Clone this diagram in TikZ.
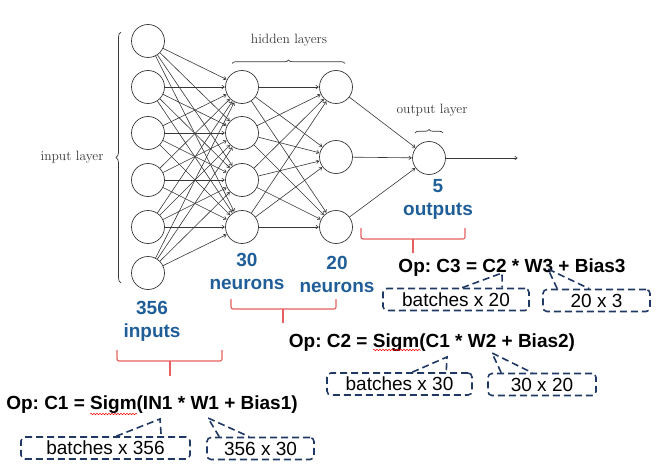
\documentclass[tikz,border=0pt]{standalone}
\usepackage{fontspec}
\setsansfont{Liberation Sans}
\usepackage{tikz}
\usetikzlibrary{arrows.meta,decorations.pathreplacing,decorations.pathmorphing}
\definecolor{netgray}{RGB}{55,55,55}
\definecolor{numblue}{RGB}{31,94,153}
\definecolor{bracered}{RGB}{232,96,96}
\definecolor{boxnavy}{RGB}{31,56,100}
\frenchspacing

\begin{document}
\begin{tikzpicture}[x=1pt,y=-1pt]
    \tikzstyle{neuron}=[circle,draw=netgray,fill=white,minimum size=33pt,inner sep=0pt,line width=0.7pt]
    \tikzstyle{link}=[draw=netgray,line width=0.6pt,-{To[length=3pt,width=4pt]},shorten >=0.5pt]
    \tikzstyle{layertext}=[text=netgray,font=\fontsize{13.5}{16}\selectfont]
    \tikzstyle{layerbrace}=[draw=netgray,line width=0.7pt,decorate]
    \tikzstyle{count}=[text=numblue,align=center,font=\sffamily\bfseries\fontsize{19}{23}\selectfont]
    \tikzstyle{optext}=[font=\sffamily\bfseries\fontsize{19}{23}\selectfont]
    \tikzstyle{dimbox}=[draw=boxnavy,line width=1.6pt,dash pattern=on 7pt off 4pt,rounded corners=4pt,
        inner sep=0pt,minimum height=22pt,font=\sffamily\fontsize{19}{23}\selectfont]
    \tikzstyle{pointer}=[draw=boxnavy,line width=1.6pt,dash pattern=on 7pt off 4pt]
    \tikzstyle{bracket}=[draw=bracered,line width=1.2pt,rounded corners=2pt]
    \tikzstyle{squiggle}=[draw=red,line width=0.5pt,decorate,decoration={snake,amplitude=0.7pt,segment length=3pt}]

    \useasboundingbox (0,0) rectangle (661,476);

    % network
    \foreach \y [count=\i] in {41,87,133,180,227,273}
        \node[neuron] (I-\i) at (148,\y){};
    \foreach \y [count=\i] in {87,133,180,227}
        \node[neuron] (H-\i) at (242,\y){};
    \foreach \y [count=\i] in {87,157,227}
        \node[neuron] (G-\i) at (336,\y){};
    \node[neuron] (O) at (429,158){};
    \coordinate (out) at (518,158);

    \foreach \from in {1,...,6}
        \foreach \to in {1,...,4}
            \draw[link] (I-\from) -- (H-\to);
    \foreach \from in {1,...,4}
        \foreach \to in {1,...,3}
            \draw[link] (H-\from) -- (G-\to);
    \foreach \from in {1,...,3}
        \draw[link] (G-\from) -- (O);
    \draw[link] (O) -- (out);

    % layer names
    \node[layertext] (in-name) at (72,157){input layer};
    \node[layertext] (hid-name) at (289,40){hidden layers};
    \node[layertext] (out-name) at (432,110){output layer};
    \draw[layerbrace,decoration={brace,amplitude=5pt}] (121,283) -- (121,32);
    \draw[layerbrace,decoration={brace,amplitude=3.5pt}] (232,63.5) -- (345,63.5);
    \draw[layerbrace,decoration={brace,amplitude=3.5pt}] (415,133) -- (443,133);

    % sizes
    \node[count] (n-in) at (152,321){356\\inputs};
    \node[count] (n-h1) at (247,271){30\\neurons};
    \node[count] (n-h2) at (337,274){20\\neurons};
    \node[count] (n-out) at (438,199){5\\outputs};

    \draw[bracket] (117,350) -- (117,361) -- (222,361) -- (222,350);
    \draw[bracket] (170,361) -- (170,376);
    \draw[bracket] (231,299) -- (231,309) -- (336,309) -- (336,299);
    \draw[bracket] (283,309) -- (283,323);
    \draw[bracket] (361,228) -- (361,239) -- (465,239) -- (465,228);
    \draw[bracket] (413,239) -- (413,253);

    % operations
    \node[optext] (op1) at (152,405){Op: C1 = Sigm(IN1 * W1 + Bias1)};
    \node[optext] (op2) at (432,343){Op: C2 = Sigm(C1 * W2 + Bias2)};
    \node[optext] (op3) at (512,268){Op: C3 = C2 * W3 + Bias3};
    \draw[squiggle] (90,414) -- (137,414);
    \draw[squiggle] (373,350) -- (421,350);

    \node[dimbox,minimum width=169pt] (b1) at (105.5,448){batches x 356};
    \node[dimbox,minimum width=107pt] (b2) at (260.5,448.5){356 x 30};
    \node[dimbox,minimum width=145pt] (b3) at (399.5,384){batches x 30};
    \node[dimbox,minimum width=108pt] (b4) at (542,384.5){30 x 20};
    \node[dimbox,minimum width=146pt] (b5) at (456,299.5){batches x 20};
    \node[dimbox,minimum width=107pt] (b6) at (596.5,300.5){20 x 3};

    \coordinate (t1) at (160,419);
    \coordinate (t2) at (208,418);
    \coordinate (t3) at (447,357);
    \coordinate (t4) at (492,353);
    \coordinate (t5) at (502,273);
    \coordinate (t6) at (548,269);
    \draw[pointer] ([xshift=96pt]b1.north west) -- (t1) -- ([xshift=141pt]b1.north west);
    \draw[pointer] ([xshift=13pt]b2.north west) -- (t2) -- ([xshift=43pt]b2.north west);
    \draw[pointer] ([xshift=86pt]b3.north west) -- (t3) -- ([xshift=120pt]b3.north west);
    \draw[pointer] ([xshift=14pt]b4.north west) -- (t4) -- ([xshift=45pt]b4.north west);
    \draw[pointer] ([xshift=80pt]b5.north west) -- (t5) -- ([xshift=120pt]b5.north west);
    \draw[pointer] ([xshift=15pt]b6.north west) -- (t6) -- ([xshift=47pt]b6.north west);
\end{tikzpicture}
\end{document}
